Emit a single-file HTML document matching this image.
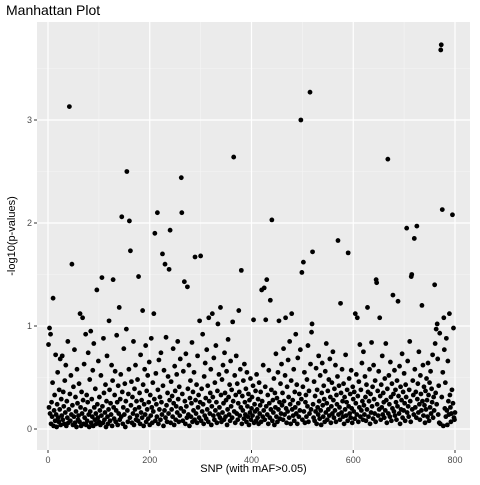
<!DOCTYPE html>
<html><head><meta charset="utf-8"><style>
body{margin:0;background:#fff;}
svg text{font-family:"Liberation Sans",sans-serif;}
</style></head><body>
<svg id="chart" width="480" height="480">
<rect width="480" height="480" fill="#fff"/>
<rect x="37" y="22" width="433" height="428" fill="#EBEBEB"/>
<g id="grid"></g>
<g id="points"></g>
<g id="axes"></g>
<text x="6" y="15" font-size="14" fill="#000">Manhattan Plot</text>
<text x="253.5" y="472" font-size="11" text-anchor="middle" fill="#000">SNP (with mAF&gt;0.05)</text>
<text x="0" y="0" font-size="11" text-anchor="middle" fill="#000" transform="translate(15,236) rotate(-90)">-log10(p-values)</text>
</svg>
<script>
const xTicks=[0,200,400,600,800];
const yTicks=[0,1,2,3];
const pvals=[
0.82,0.21,0.98,0.15,0.92,0.05,0.26,0.12,0.45,1.27,0.03,0.18,0.33,0.08,0.72,0.14,0.02,0.24,0.55,0.11,
0.07,0.38,0.19,0.68,0.04,0.29,0.13,0.71,0.09,0.36,0.22,0.05,0.47,0.16,0.62,0.03,0.27,0.11,0.85,0.06,
0.19,3.13,0.34,0.08,0.52,0.14,1.60,0.23,0.04,0.41,0.12,0.77,0.06,0.31,0.17,0.02,0.58,0.25,0.09,0.13,
0.44,0.07,1.12,0.21,0.03,0.36,0.15,1.08,0.28,0.05,0.63,0.11,0.19,0.92,0.04,0.33,0.08,0.26,0.74,0.14,
0.02,0.48,0.17,0.95,0.06,0.29,0.12,0.57,0.03,0.83,0.21,0.09,0.39,0.15,0.05,1.35,0.24,0.11,0.66,0.07,
0.31,0.18,0.04,0.52,0.13,1.47,0.22,0.06,0.88,0.35,0.09,0.16,0.43,0.02,0.27,0.71,0.12,0.05,0.19,1.05,
0.38,0.08,0.25,0.14,0.62,0.03,0.47,1.45,0.21,0.10,0.33,0.56,0.07,0.18,0.91,0.26,0.04,0.42,0.15,1.18,
0.09,0.29,0.53,0.12,2.06,0.36,0.05,0.21,0.78,0.14,0.44,0.02,0.27,0.97,2.50,0.18,0.07,0.34,0.58,2.02,
0.11,1.73,0.23,0.46,0.06,0.31,0.15,0.85,0.04,0.39,0.19,0.62,0.09,0.27,0.13,0.48,0.08,1.48,0.21,0.35,
0.05,0.72,0.16,0.28,0.11,1.15,0.43,0.03,0.24,0.58,0.14,0.81,0.07,0.37,0.19,0.52,0.10,0.26,0.65,0.04,
0.33,0.13,0.88,0.21,0.06,0.45,0.17,1.12,0.29,1.90,0.08,0.54,0.24,0.12,2.10,0.38,0.05,0.67,0.19,0.31,
0.09,0.74,0.26,0.14,1.70,0.42,0.03,0.57,0.18,1.60,0.11,0.89,0.23,0.07,0.35,0.51,0.15,1.55,0.28,1.93,
0.06,0.46,0.19,0.32,0.12,0.78,0.25,0.04,0.61,0.37,0.09,0.22,0.53,0.16,0.85,0.29,0.07,0.41,0.13,0.68,
0.20,2.44,2.10,0.34,0.08,0.56,0.17,1.43,0.27,0.05,0.73,0.22,0.11,1.38,0.39,0.14,0.62,0.03,0.30,0.47,
0.12,0.25,0.84,0.07,0.36,0.18,0.55,0.09,1.67,0.28,0.15,0.43,0.06,0.71,0.21,0.33,0.11,1.05,0.26,1.68,
0.08,0.39,0.17,0.92,0.24,0.05,0.51,0.13,0.64,0.30,0.10,0.77,0.19,0.42,0.07,1.08,0.27,0.15,0.35,0.58,
0.04,0.22,1.12,0.31,0.13,0.69,0.09,0.45,0.18,0.81,0.26,0.06,0.37,1.02,0.14,0.53,0.21,0.11,1.18,0.33,
0.07,0.48,0.16,0.62,0.25,0.09,0.74,0.35,0.12,0.28,0.56,0.04,0.19,0.87,0.31,0.14,0.43,0.08,0.66,0.22,
0.38,0.11,1.04,0.27,2.64,0.17,0.52,0.06,0.33,0.71,0.15,0.44,0.09,0.25,1.15,0.36,0.13,0.58,0.21,1.54,
0.05,0.32,0.18,0.47,0.10,0.63,0.26,0.14,0.39,0.07,0.55,0.22,0.12,0.34,0.04,0.28,0.16,0.49,0.09,0.20,
0.31,0.13,0.42,1.06,0.06,0.24,0.17,0.37,0.08,0.53,0.19,0.11,0.29,0.05,0.45,0.15,0.23,0.36,0.07,1.35,
0.27,0.12,0.62,0.18,1.37,0.09,0.41,1.06,0.22,1.45,0.14,0.33,0.05,0.57,0.25,0.11,1.25,0.19,0.38,2.03,
0.08,0.28,0.16,0.49,0.04,0.35,0.21,0.73,0.12,0.30,0.07,0.55,0.19,1.05,0.26,0.10,0.44,0.15,0.63,0.23,
0.35,0.09,0.78,0.27,0.14,0.52,1.08,0.20,0.06,0.41,0.17,0.67,0.31,0.11,0.85,0.24,0.05,0.47,1.12,0.19,
0.28,0.13,0.58,0.08,0.36,0.21,0.92,0.15,0.43,0.05,0.69,0.25,0.12,0.34,0.18,0.77,3.00,0.29,1.52,0.09,
0.41,1.62,0.17,0.55,0.06,0.26,0.33,0.12,0.48,0.22,0.81,0.07,0.37,0.15,3.27,0.63,0.19,0.94,1.02,1.72,
0.24,0.11,0.46,0.08,0.32,0.17,0.59,0.05,0.38,0.21,0.14,0.71,0.27,0.10,0.52,0.18,0.04,0.35,0.64,0.23,
0.12,0.42,0.29,0.07,0.56,0.16,0.83,0.25,0.09,0.37,0.19,0.48,0.13,0.68,0.31,0.06,0.22,0.45,0.15,0.75,
0.28,0.11,0.39,0.18,0.62,0.07,0.33,0.24,0.51,1.83,0.14,0.42,0.21,0.09,1.22,0.35,0.16,0.58,0.27,0.12,
0.44,0.05,0.31,0.19,0.72,0.13,0.26,0.38,0.08,1.71,0.22,0.49,0.15,0.34,0.11,0.57,0.20,0.06,0.41,0.29,
0.17,0.36,0.10,1.12,0.25,0.53,0.14,1.08,0.32,0.07,0.46,0.21,0.82,0.12,0.38,0.18,0.64,0.27,0.09,0.75,
0.23,0.14,0.51,0.31,0.08,0.43,0.19,1.18,0.36,0.12,0.27,0.58,0.05,0.34,0.16,0.84,0.22,0.41,0.10,0.62,
0.29,0.15,0.47,0.07,1.45,1.42,0.24,0.37,0.13,0.56,0.19,1.08,0.32,0.09,0.43,0.21,0.71,0.14,0.35,0.26,
0.11,0.49,0.18,0.83,0.28,0.06,0.39,2.62,0.15,0.52,0.24,0.12,0.65,0.31,0.08,0.44,0.20,1.30,0.34,0.17,
0.57,0.13,0.38,0.26,0.09,0.47,0.22,1.24,0.32,0.15,0.61,0.05,0.41,0.19,0.28,0.73,0.11,0.36,0.18,0.54,
0.25,0.08,0.43,0.31,1.95,0.16,0.66,0.22,0.12,0.38,0.85,0.27,0.07,1.48,1.50,0.19,0.47,0.33,0.14,1.85,
0.58,0.21,0.36,0.11,1.97,0.29,0.44,0.16,0.75,0.24,0.09,0.52,0.34,0.18,1.20,0.27,0.62,0.13,0.41,0.23,
0.06,0.37,0.19,0.49,0.28,0.12,0.64,0.33,0.08,0.45,0.21,0.56,0.15,0.39,0.26,0.72,0.11,0.31,0.18,1.40,
0.83,0.35,0.97,0.24,1.02,0.68,0.14,0.42,0.06,0.93,0.05,3.68,3.73,0.31,2.13,0.55,0.03,1.08,0.77,0.20,
0.45,0.12,0.88,0.18,0.04,0.66,0.27,0.14,1.12,0.33,0.21,0.07,0.15,0.38,2.08,0.25,0.98,0.11,0.09,0.16
];
const NS="http://www.w3.org/2000/svg";
const X0=37,X1=470,Y0=22,Y1=450;
const xs=v=>48+v*(455-48)/800;
const ys=v=>429-v*103;
const grid=document.getElementById('grid'),axes=document.getElementById('axes'),pts=document.getElementById('points');
function line(p,x1,y1,x2,y2,c,w){const l=document.createElementNS(NS,'line');l.setAttribute('x1',x1);l.setAttribute('y1',y1);l.setAttribute('x2',x2);l.setAttribute('y2',y2);l.setAttribute('stroke',c);l.setAttribute('stroke-width',w);p.appendChild(l);return l;}
for(let i=0;i<xTicks.length-1;i++){const m=line(grid,xs((xTicks[i]+xTicks[i+1])/2),Y0,xs((xTicks[i]+xTicks[i+1])/2),Y1,'#F5F5F5',0.6);

}
for(let i=0;i<yTicks.length;i++){const v=yTicks[i]+0.5;const m=line(grid,X0,ys(v),X1,ys(v),'#F5F5F5',0.6);

}
xTicks.forEach(v=>{const g=line(grid,xs(v),Y0,xs(v),Y1,'#fff',1.2);


line(axes,xs(v),Y1,xs(v),Y1+3,'#333',1);
const t=document.createElementNS(NS,'text');t.setAttribute('x',xs(v));t.setAttribute('y',Y1+13);t.setAttribute('font-size','9');t.setAttribute('fill','#4D4D4D');t.setAttribute('text-anchor','middle');t.textContent=v;


axes.appendChild(t);});
yTicks.forEach(v=>{const g=line(grid,X0,ys(v),X1,ys(v),'#fff',1.2);


line(axes,X0-3,ys(v),X0,ys(v),'#333',1);
const t=document.createElementNS(NS,'text');t.setAttribute('x',X0-5);t.setAttribute('y',ys(v)+3);t.setAttribute('font-size','9');t.setAttribute('fill','#4D4D4D');t.setAttribute('text-anchor','end');t.textContent=v;


axes.appendChild(t);});
pvals.forEach((v,i)=>{const c=document.createElementNS(NS,'circle');c.setAttribute('cx',xs(i+1));c.setAttribute('cy',ys(v));c.setAttribute('r',2.4);c.setAttribute('fill','#000');


pts.appendChild(c);});
</script>
</body></html>
